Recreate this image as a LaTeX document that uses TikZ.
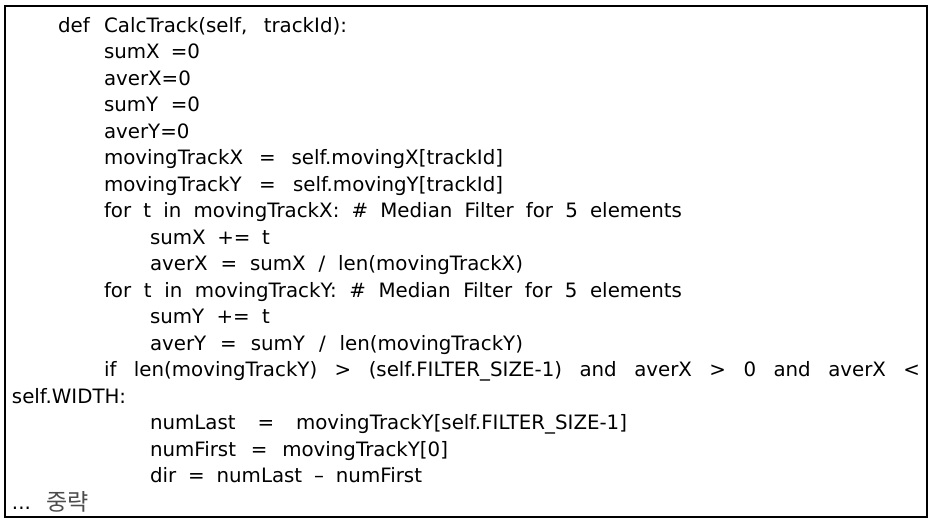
\documentclass[tikz,border=0pt]{standalone}
\usepackage{fontspec}
\setmainfont{DejaVu Sans}
\newfontfamily\krfont{Noto Sans CJK KR}
\begin{document}
\begin{tikzpicture}[x=1pt,y=-1pt,
  codeline/.style={anchor=base west,inner sep=0pt,outer sep=0pt,font=\fontsize{19.8}{22}\selectfont}]
\useasboundingbox (0,0) rectangle (934,522);
\draw[line width=1.3pt] (5,6) rectangle (927,517);
\newcommand\codeln[4]{\node[codeline] (#1) at (#2,{32+26.5*(#3)}) {#4};}
\newcommand\codelnw[5]{\node[codeline] (#1) at (#2,{32+26.5*(#3)}) {\makebox[#4pt][s]{#5}};}
\codelnw{l1}{58}{0}{289}{def CalcTrack(self, trackId):}
\codelnw{l2}{104}{1}{96}{sumX =0}
\codeln{l3}{104}{2}{averX=0}
\codelnw{l4}{104}{3}{96}{sumY =0}
\codeln{l5}{104}{4}{averY=0}
\codelnw{l6}{104}{5}{399}{movingTrackX = self.movingX[trackId]}
\codelnw{l7}{104}{6}{399}{movingTrackY = self.movingY[trackId]}
\codelnw{l8}{104}{7}{578}{for t in movingTrackX: \# Median Filter for 5 elements}
\codelnw{l9}{150}{8}{120}{sumX += t}
\codelnw{l10}{150}{9}{373}{averX = sumX / len(movingTrackX)}
\codelnw{l11}{104}{10}{578}{for t in movingTrackY: \# Median Filter for 5 elements}
\codelnw{l12}{150}{11}{120}{sumY += t}
\codelnw{l13}{150}{12}{373}{averY = sumY / len(movingTrackY)}
\codelnw{l14}{104}{13}{816}{if len(movingTrackY) > (self.FILTER\_SIZE-1) and averX > 0 and averX <}
\codeln{l15}{12}{14}{self.WIDTH:}
\codelnw{l16}{150}{15}{477}{numLast = movingTrackY[self.FILTER\_SIZE-1]}
\codelnw{l17}{150}{16}{298}{numFirst = movingTrackY[0]}
\codelnw{l18}{150}{17}{272}{dir = numLast – numFirst}
\codeln{l19}{12}{18}{...}
\node[codeline,font=\krfont\fontsize{23}{25}\selectfont,text=black!70] (l19k) at (46,{33+26.5*18}) {중략};
\end{tikzpicture}
\end{document}
